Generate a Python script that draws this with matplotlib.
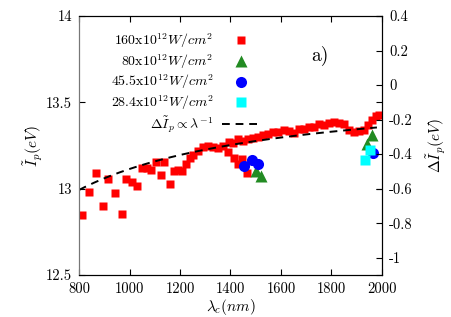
import numpy as np
import matplotlib
matplotlib.use("Agg")
import matplotlib.pyplot as plt
from matplotlib.ticker import FuncFormatter
from matplotlib.lines import Line2D

plt.rcParams['font.family'] = 'serif'
plt.rcParams['font.serif'] = ['cmr10', 'DejaVu Serif']
plt.rcParams['mathtext.fontset'] = 'cm'
plt.rcParams['axes.unicode_minus'] = False
plt.rcParams['axes.formatter.use_mathtext'] = True

# 160x10^12 W/cm^2
lam_160 = [813, 840, 866, 896, 916, 943, 969, 986, 1009, 1030, 1048, 1068, 1085,
           1105, 1125, 1138, 1159, 1175, 1191, 1207, 1222, 1238, 1253, 1270, 1290,
           1310, 1330, 1350, 1370, 1390, 1395, 1410, 1415, 1430, 1430, 1445, 1450,
           1465, 1470, 1490, 1510, 1530, 1550, 1570, 1590, 1610, 1630, 1650, 1670,
           1690, 1710, 1730, 1750, 1770, 1790, 1810, 1830, 1850, 1870, 1890, 1910,
           1930, 1945, 1960, 1975, 1990]
ip_160 = [12.845, 12.98, 13.093, 12.90, 13.054, 12.977, 12.855, 13.054, 13.04, 13.017,
          13.12, 13.12, 13.106, 13.152, 13.08, 13.152, 13.025, 13.10, 13.11, 13.10,
          13.145, 13.178, 13.197, 13.22, 13.24, 13.245, 13.24, 13.235, 13.245, 13.21,
          13.27, 13.265, 13.18, 13.285, 13.14, 13.17, 13.275, 13.09, 13.285, 13.295,
          13.30, 13.31, 13.315, 13.33, 13.33, 13.34, 13.335, 13.325, 13.345, 13.345,
          13.355, 13.36, 13.375, 13.37, 13.38, 13.385, 13.38, 13.375, 13.34, 13.33,
          13.335, 13.34, 13.37, 13.40, 13.42, 13.425]

# 80x10^12 W/cm^2
lam_80 = [1500, 1520, 1940, 1960]
ip_80 = [13.10, 13.075, 13.26, 13.31]

# 45.5x10^12 W/cm^2
lam_45 = [1455, 1485, 1510, 1965]
ip_45 = [13.13, 13.165, 13.145, 13.205]

# 28.4x10^12 W/cm^2
lam_28 = [1932, 1952]
ip_28 = [13.165, 13.222]

# fitted shift dIp = -C / lambda (eV, lambda in nm)
C_fit = 486.0
lam_fit = np.linspace(800, 1980, 200)
dip_fit = -C_fit / lam_fit

fig = plt.figure(figsize=(4.52, 3.17), dpi=100)
ax = fig.add_axes([0.1748, 0.1325, 0.6703, 0.817])
ax2 = ax.twinx()

ax.plot(lam_160, ip_160, 's', color='red', ms=5.8, mec='none', zorder=2,
        label=r'$160\mathrm{x}10^{12}W/cm^2$')
ax.plot(lam_80, ip_80, '^', color='#228b22', ms=8, mec='none', zorder=3,
        label=r'$80\mathrm{x}10^{12}W/cm^2$')
ax.plot(lam_45, ip_45, 'o', color='blue', ms=8, mec='none', zorder=4,
        label=r'$45.5\mathrm{x}10^{12}W/cm^2$')
ax.plot(lam_28, ip_28, 's', color='cyan', ms=7, mec='none', zorder=5,
        label=r'$28.4\mathrm{x}10^{12}W/cm^2$')
ax2.plot(lam_fit, dip_fit, color='black', lw=1.4, dashes=(4, 3))

ax.set_xlim(800, 2000)
ax.set_ylim(12.5, 14)
ax2.set_ylim(-1.1, 0.4)
ax.set_xticks(np.arange(800, 2001, 200))
ax.set_yticks([12.5, 13, 13.5, 14])
ax2.set_yticks([0.4, 0.2, 0, -0.2, -0.4, -0.6, -0.8, -1])
fmt = FuncFormatter(lambda v, p: '%g' % v)
ax.yaxis.set_major_formatter(fmt)
ax2.yaxis.set_major_formatter(fmt)
ax.xaxis.set_major_formatter(fmt)

ax.tick_params(direction='in', top=True, right=True, labelsize=10.5, length=4, pad=5)
ax2.tick_params(direction='in', labelsize=10.5, length=4, pad=5)
ax.spines['left'].set_color('#777777')
ax2.spines['left'].set_color('#777777')

ax.set_xlabel(r'$\lambda_c(nm)$', fontsize=11, labelpad=1)
ax.set_ylabel(r'$\tilde{I}_p(eV)$', fontsize=11, labelpad=1)
ax2.set_ylabel(r'$\Delta\tilde{I}_p(eV)$', fontsize=11, labelpad=9)

ax.text(0.795, 0.845, 'a)', transform=ax.transAxes, fontsize=14,
        ha='center', va='center')

handles, labels = ax.get_legend_handles_labels()
handles.append(Line2D([], [], color='black', lw=1.4, dashes=(4, 3)))
labels.append(r'$\Delta\tilde{I}_p \propto \lambda^{-1}$')
ax2.legend(handles, labels, loc='upper right', bbox_to_anchor=(0.617, 0.962),
           frameon=False, markerfirst=False, fontsize=10, handlelength=2.8,
           labelspacing=0.15, handletextpad=0.6, borderaxespad=0)

fig.savefig('out.png', dpi=100)
